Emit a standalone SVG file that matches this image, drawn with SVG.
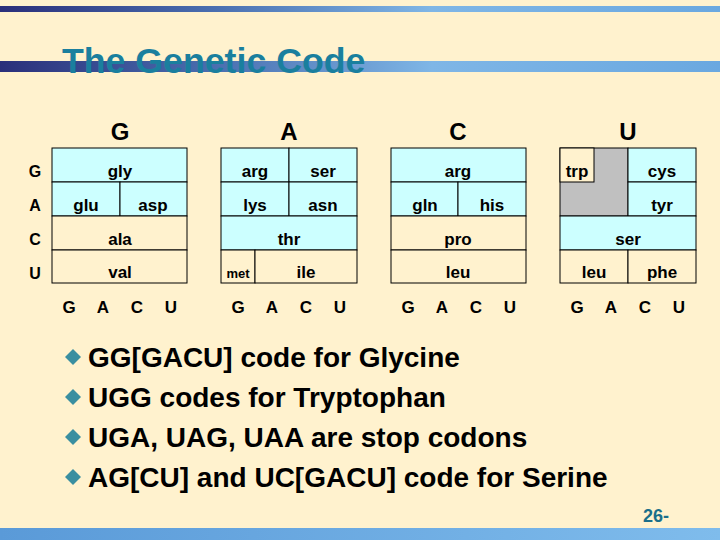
<svg xmlns="http://www.w3.org/2000/svg" width="720" height="540" viewBox="0 0 720 540">
<defs>
<linearGradient id="band" x1="0" x2="1" y1="0" y2="0">
<stop offset="0" stop-color="#2a2f7a"/><stop offset="0.3" stop-color="#4a6fb0"/><stop offset="0.6" stop-color="#7fb6e6"/><stop offset="1" stop-color="#6aa8e0"/>
</linearGradient>
<linearGradient id="band2" x1="0" x2="1" y1="0" y2="0">
<stop offset="0" stop-color="#5a9ad8"/><stop offset="1" stop-color="#7fbcec"/>
</linearGradient>
</defs>
<style>
.c{fill:#ccffff;stroke:#000;stroke-width:1}
.b{fill:#fff2ce;stroke:#000;stroke-width:1}
.g{fill:#c0c0c0;stroke:none}
text{font-family:"Liberation Sans",Arial,sans-serif;font-weight:bold;fill:#000}
.t{font-size:17px;text-anchor:middle}
.h{font-size:24px;text-anchor:middle}
.r{font-size:16px;text-anchor:middle}
.bl{font-size:28px}
.d{fill:#3a8fa0}
</style>
<rect width="720" height="540" fill="#fff2ce"/>
<rect x="0" y="6" width="720" height="6" fill="url(#band)"/>
<rect x="0" y="61" width="720" height="11" fill="url(#band)"/>
<rect x="0" y="528" width="720" height="12" fill="url(#band2)"/>
<text x="62" y="73" style="font-size:35.7px;fill:#1a7f9e">The Genetic Code</text>
<g id="headers">
<text class="h" x="120" y="140">G</text><text class="h" x="289" y="140">A</text><text class="h" x="458" y="140">C</text><text class="h" x="628" y="140">U</text>
</g>
<g id="rows">
<text class="r" x="35" y="177">G</text><text class="r" x="35" y="211">A</text><text class="r" x="35" y="245">C</text><text class="r" x="35" y="279">U</text>
</g>
<g id="gridG">
<rect class="c" x="52" y="148" width="135" height="34"/>
<rect class="c" x="52" y="182" width="68" height="34"/><rect class="c" x="120" y="182" width="67" height="34"/>
<rect class="b" x="52" y="216" width="135" height="34"/>
<rect class="b" x="52" y="250" width="135" height="33"/>
<text class="t" x="120" y="177">gly</text><text class="t" x="86" y="211">glu</text><text class="t" x="153" y="211">asp</text>
<text class="t" x="120" y="245">ala</text><text class="t" x="120" y="278">val</text>
</g>
<g id="gridA">
<rect class="c" x="221" y="148" width="68" height="34"/><rect class="c" x="289" y="148" width="68" height="34"/>
<rect class="c" x="221" y="182" width="68" height="34"/><rect class="c" x="289" y="182" width="68" height="34"/>
<rect class="c" x="221" y="216" width="136" height="34"/>
<rect class="b" x="221" y="250" width="34" height="33"/><rect class="b" x="255" y="250" width="102" height="33"/>
<text class="t" x="255" y="177">arg</text><text class="t" x="323" y="177">ser</text>
<text class="t" x="255" y="211">lys</text><text class="t" x="323" y="211">asn</text>
<text class="t" x="289" y="245">thr</text>
<text class="t" x="238" y="278" style="font-size:13px">met</text><text class="t" x="306" y="278">ile</text>
</g>
<g id="gridC">
<rect class="c" x="391" y="148" width="135" height="34"/>
<rect class="c" x="391" y="182" width="67" height="34"/><rect class="c" x="458" y="182" width="68" height="34"/>
<rect class="b" x="391" y="216" width="135" height="34"/>
<rect class="b" x="391" y="250" width="135" height="33"/>
<text class="t" x="458" y="177">arg</text><text class="t" x="425" y="211">gln</text><text class="t" x="492" y="211">his</text>
<text class="t" x="458" y="245">pro</text><text class="t" x="458" y="278">leu</text>
</g>
<g id="gridU">
<rect class="g" x="560" y="148" width="68" height="68"/>
<rect x="560" y="148" width="68" height="68" fill="none" stroke="#000"/>
<rect class="b" x="560" y="148" width="34" height="34"/>
<rect class="c" x="628" y="148" width="68" height="34"/><rect class="c" x="628" y="182" width="68" height="34"/>
<rect class="c" x="560" y="216" width="136" height="34"/>
<rect class="b" x="560" y="250" width="68" height="33"/><rect class="b" x="628" y="250" width="68" height="33"/>
<text class="t" x="577" y="177">trp</text><text class="t" x="662" y="177">cys</text><text class="t" x="662" y="211">tyr</text>
<text class="t" x="628" y="245">ser</text><text class="t" x="594" y="278">leu</text><text class="t" x="662" y="278">phe</text>
</g>
<g id="cols">
<text class="t" x="69" y="313">G</text><text class="t" x="103" y="313">A</text><text class="t" x="137" y="313">C</text><text class="t" x="171" y="313">U</text>
<text class="t" x="238" y="313">G</text><text class="t" x="272" y="313">A</text><text class="t" x="306" y="313">C</text><text class="t" x="340" y="313">U</text>
<text class="t" x="408" y="313">G</text><text class="t" x="442" y="313">A</text><text class="t" x="476" y="313">C</text><text class="t" x="510" y="313">U</text>
<text class="t" x="577" y="313">G</text><text class="t" x="611" y="313">A</text><text class="t" x="645" y="313">C</text><text class="t" x="679" y="313">U</text>
</g>
<g id="bullets">
<polygon class="d" points="73,349 81,357 73,365 65,357"/>
<polygon class="d" points="73,389 81,397 73,405 65,397"/>
<polygon class="d" points="73,429 81,437 73,445 65,437"/>
<polygon class="d" points="73,469 81,477 73,485 65,477"/>
<text class="bl" x="88" y="367">GG[GACU] code for Glycine</text>
<text class="bl" x="88" y="407">UGG codes for Tryptophan</text>
<text class="bl" x="88" y="447">UGA, UAG, UAA are stop codons</text>
<text class="bl" x="88" y="487">AG[CU] and UC[GACU] code for Serine</text>
</g>
<text x="643" y="522" style="font-size:18px;fill:#1a6f8a">26-</text>
</svg>
